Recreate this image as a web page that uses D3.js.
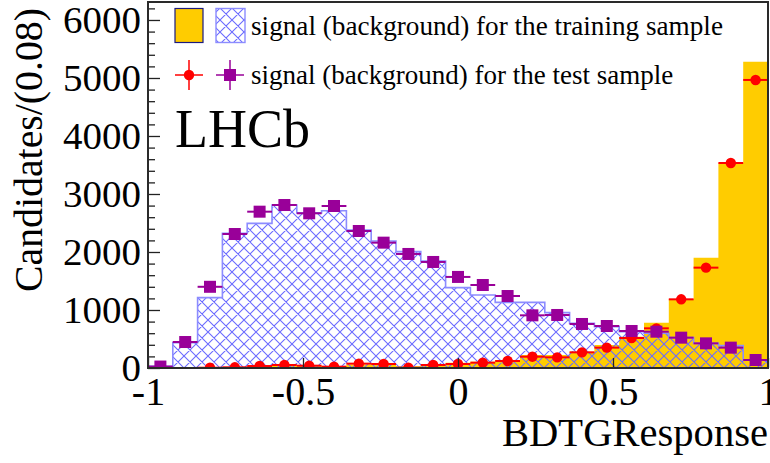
<!DOCTYPE html>
<html><head><meta charset="utf-8">
<script src="https://cdn.jsdelivr.net/npm/d3@7/dist/d3.min.js"></script>
<style>
html,body{margin:0;padding:0;background:#fff;}
text{font-family:"Liberation Serif","Times New Roman",serif;fill:#000;}
</style></head>
<body>
<svg id="c" width="770" height="463"></svg>
<script>
// ---- data (bins of width 0.08 on [-1,1]) ----
const binWidth = 0.08;
const bkgTrain = [30, 437, 1213, 2322, 2494, 2810, 2675, 2712, 2379, 2190, 2006, 1845, 1385, 1259, 1132, 1132, 954, 770, 713, 626, 598, 523, 425, 385, 138];
const bkgTest  = [25, 448, 1400, 2310, 2695, 2810, 2667, 2793, 2362, 2161, 1966, 1828, 1570, 1431, 1241, 908, 914, 759, 724, 638, 626, 523, 425, 351, 138];
const sigTrain = [0, 0, 5, 15, 30, 40, 40, 35, 60, 60, 30, 60, 90, 109, 138, 224, 224, 282, 397, 540, 782, 1190, 1902, 3530, 5282];
const sigTest  = [null, null, 5, 12, 34, 52, 40, 23, 75, 69, 5, 52, 69, 92, 121, 195, 184, 270, 351, 517, 684, 1184, 1730, 3534, 4966];
const xTicks = [-1, -0.5, 0, 0.5, 1];
const xTickLabels = ["-1", "-0.5", "0", "0.5", "1"];
const yTicks = [0, 1000, 2000, 3000, 4000, 5000, 6000];
const yMinor = d3.range(0, 6400, 200).filter(v => v % 1000 !== 0);
const legendLabels = ["signal (background) for the training sample", "signal (background) for the test sample"];

const L = 148, R = 768, T = 2, B = 368;
const x = d3.scaleLinear().domain([-1, 1]).range([L, R]);
const y = d3.scaleLinear().domain([0, 6310]).range([B, T]);

const svg = d3.select("#c");
const defs = svg.append("defs");
const pat = defs.append("pattern").attr("id", "hatch").attr("patternUnits", "userSpaceOnUse")
  .attr("width", 12).attr("height", 12).attr("x", L).attr("y", B);
pat.append("path").attr("d", "M0,0L12,12M0,12L12,0M-3,9L3,15M9,-3L15,3M-3,3L3,-3M9,15L15,9")
  .attr("stroke", "#6b6bff").attr("stroke-width", 1.1).attr("fill", "none");
defs.append("clipPath").attr("id", "clip").append("rect").attr("x", L).attr("y", T).attr("width", R - L).attr("height", B - T);

const binLow = i => -1 + i * binWidth;
function stepPts(vals) {
  const pts = [];
  vals.forEach((v, i) => { pts.push([binLow(i), v]); pts.push([binLow(i + 1), v]); });
  return pts;
}
const area = d3.area().x(d => x(d[0])).y0(y(0)).y1(d => y(d[1]));
const line = d3.line().x(d => x(d[0])).y(d => y(d[1]));

const g = svg.append("g").attr("clip-path", "url(#clip)");
// signal training (yellow)
g.append("path").attr("d", area(stepPts(sigTrain))).attr("fill", "#ffcc00");
// background training (hatched)
g.append("path").attr("d", area(stepPts(bkgTrain))).attr("fill", "url(#hatch)");
const bp = stepPts(bkgTrain);
g.append("path").attr("d", line([[-1, 0]].concat(bp).concat([[1, 0]])))
  .attr("fill", "none").attr("stroke", "#8c8cff").attr("stroke-width", 1.6);

// test samples as points with error bars
function drawPoints(vals, color, shape) {
  const gg = g.append("g");
  vals.forEach((v, i) => {
    if (v === null) return;
    const cx = x(binLow(i) + binWidth / 2), cy = y(v);
    const e = Math.sqrt(v);
    gg.append("line").attr("x1", x(binLow(i))).attr("x2", x(binLow(i + 1))).attr("y1", cy).attr("y2", cy)
      .attr("stroke", color).attr("stroke-width", 2);
    gg.append("line").attr("x1", cx).attr("x2", cx).attr("y1", y(v - e)).attr("y2", y(v + e))
      .attr("stroke", color).attr("stroke-width", 2);
    if (shape === "circle") gg.append("circle").attr("cx", cx).attr("cy", cy).attr("r", 5.2).attr("fill", color);
    else gg.append("rect").attr("x", cx - 6).attr("y", cy - 6).attr("width", 12).attr("height", 12).attr("fill", color);
  });
}
drawPoints(sigTest, "#ff0000", "circle");
drawPoints(bkgTest, "#990099", "square");

// axes
const yAxis = d3.axisLeft(y).tickValues(yTicks).tickSize(-12).tickPadding(7).tickFormat(d3.format("d"));
const ya = svg.append("g").attr("transform", `translate(${L},0)`).call(yAxis);
ya.select(".domain").remove();
ya.selectAll("line").attr("stroke", "#222").attr("stroke-width", 1.3);
ya.selectAll("text").attr("font-size", 38).attr("dy", "0.34em").attr("textLength", 80).attr("lengthAdjust", "spacingAndGlyphs")
  .each(function(d){ const t = String(d); d3.select(this).attr("textLength", t.length * 19.5); });
const yMinAxis = d3.axisLeft(y).tickValues(yMinor).tickSize(-7).tickFormat("");
const ym = svg.append("g").attr("transform", `translate(${L},0)`).call(yMinAxis);
ym.select(".domain").remove();
ym.selectAll("line").attr("stroke", "#222").attr("stroke-width", 1.3);

const xAxis = d3.axisBottom(x).tickValues(xTicks).tickSize(-10).tickFormat((d, i) => xTickLabels[i]);
const xa = svg.append("g").attr("transform", `translate(0,${B})`).call(xAxis);
xa.select(".domain").remove();
xa.selectAll("line").attr("stroke", "#222").attr("stroke-width", 1.3);
xa.selectAll("text").attr("font-size", 40).attr("y", 37).attr("dy", null);

// frame
svg.append("rect").attr("x", L).attr("y", T).attr("width", R - L).attr("height", B - T)
  .attr("fill", "none").attr("stroke", "#2a2a2a").attr("stroke-width", 2);

// axis titles
svg.append("text").attr("x", 768).attr("y", 446).attr("text-anchor", "end").attr("font-size", 41)
  .attr("textLength", 266).attr("lengthAdjust", "spacingAndGlyphs").text("BDTGResponse");
svg.append("text").attr("transform", "translate(42,292) rotate(-90)").attr("font-size", 39)
  .attr("textLength", 284).attr("lengthAdjust", "spacingAndGlyphs").text("Candidates/(0.08)");

// LHCb label
svg.append("text").attr("x", 175).attr("y", 147).attr("font-size", 54).text("LHCb");

// legend
const lg = svg.append("g");
lg.append("rect").attr("x", 175).attr("y", 8.5).attr("width", 28).attr("height", 34).attr("fill", "#ffcc00").attr("stroke", "#1a1a80").attr("stroke-width", 1.2);
lg.append("rect").attr("x", 216).attr("y", 8.5).attr("width", 29).attr("height", 34).attr("fill", "url(#hatch)").attr("stroke", "#8c8cff").attr("stroke-width", 1.4);
lg.append("text").attr("x", 251).attr("y", 35).attr("font-size", 27).attr("textLength", 472).attr("lengthAdjust", "spacingAndGlyphs").text(legendLabels[0]);
[["#ff0000", 189, "circle"], ["#990099", 230, "square"]].forEach(([c, cx, s]) => {
  lg.append("line").attr("x1", cx - 14).attr("x2", cx + 14).attr("y1", 75).attr("y2", 75).attr("stroke", c).attr("stroke-width", 1.5);
  lg.append("line").attr("x1", cx).attr("x2", cx).attr("y1", 60).attr("y2", 90).attr("stroke", c).attr("stroke-width", 1.5);
  if (s === "circle") lg.append("circle").attr("cx", cx).attr("cy", 75).attr("r", 5.2).attr("fill", c);
  else lg.append("rect").attr("x", cx - 6).attr("y", 69).attr("width", 12).attr("height", 12).attr("fill", c);
});
lg.append("text").attr("x", 251).attr("y", 84).attr("font-size", 27).text(legendLabels[1]);
</script>
</body></html>
